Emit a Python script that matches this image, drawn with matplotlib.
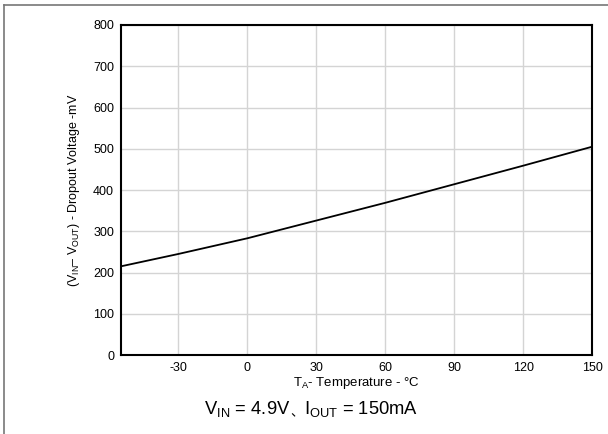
import matplotlib
matplotlib.use("Agg")
import matplotlib.pyplot as plt
from matplotlib.lines import Line2D

plt.rcParams['font.family'] = ['Liberation Sans', 'Noto Sans CJK SC', 'DejaVu Sans']
plt.rcParams['mathtext.fontset'] = 'custom'
plt.rcParams['mathtext.rm'] = 'Liberation Sans'
plt.rcParams['mathtext.it'] = 'Liberation Sans'
plt.rcParams['axes.unicode_minus'] = False

# dropout voltage vs temperature
temp_c = [-55, -30, 0, 30, 60, 90, 120, 150]
dropout_mv = [215, 245, 283, 326, 369, 414, 459, 505]
x_ticks = [-30, 0, 30, 60, 90, 120, 150]
y_ticks = [0, 100, 200, 300, 400, 500, 600, 700, 800]

fig = plt.figure(figsize=(6.08, 4.34), dpi=100)
ax = fig.add_axes([0.199, 0.182, 0.775, 0.7604])

ax.plot(temp_c, dropout_mv, color='black', lw=1.3)
ax.set_xlim(-55, 150)
ax.set_ylim(0, 800)
ax.set_xticks(x_ticks)
ax.set_yticks(y_ticks)
ax.grid(True, color='#d4d4d4', lw=1)
ax.tick_params(length=0, labelsize=9, pad=5)
for s in ax.spines.values():
    s.set_linewidth(1.5)
    s.set_color('black')

ax.set_xlabel(r'T$_{\mathrm{A}}$- Temperature - °C', fontsize=9.5, labelpad=1)
ax.set_ylabel(r'(V$_{\mathrm{IN}}$– V$_{\mathrm{OUT}}$) - Dropout Voltage -mV', fontsize=9, labelpad=8)

# bottom caption in pieces so the CJK comma gets a font
t1 = fig.text(0.336, 0.045, r'V$_{\mathrm{IN}}$ = 4.9V', fontsize=13.2, ha='left', va='baseline')
t2 = ax.annotate('、', xy=(1, 0), xycoords=t1, fontsize=9.5, ha='left', va='bottom',
                 family=['Noto Sans CJK SC'], annotation_clip=False)
t3 = ax.annotate(r'I$_{\mathrm{OUT}}$ = 150mA', xy=(1, 0), xycoords=t2, xytext=(0, 0),
                 textcoords='offset points', fontsize=13.2, ha='left', va='bottom',
                 annotation_clip=False)

# frame lines at top and left
fig.add_artist(Line2D([4 / 608, 1], [1 - 5 / 434, 1 - 5 / 434], transform=fig.transFigure, color='#777777', lw=1.2))
fig.add_artist(Line2D([4 / 608, 4 / 608], [0, 1 - 5 / 434], transform=fig.transFigure, color='#777777', lw=1.2))

fig.savefig('out.png', dpi=100)
